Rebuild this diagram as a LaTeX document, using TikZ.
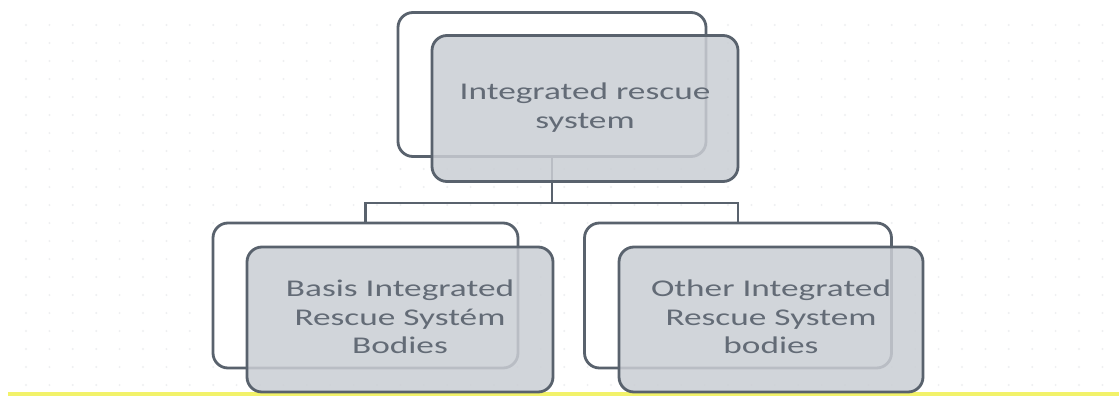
\documentclass[tikz,border=0pt]{standalone}
\usepackage{fontspec}
\setmainfont{Carlito}
\usepackage{graphicx}
\definecolor{edgec}{HTML}{59626D}
\definecolor{frontc}{HTML}{CACED4}
\definecolor{textc}{HTML}{636B76}
\definecolor{dotc}{HTML}{EEEFF1}
\definecolor{bandc}{HTML}{F2F26A}
\newcommand{\stretchtxt}[1]{\scalebox{1.47}[1]{\begin{tabular}{@{}c@{}}#1\end{tabular}}}
\tikzset{
  backbox/.style={draw=edgec, line width=2.8pt, fill=white, rounded corners=15pt, inner sep=0pt},
  frontbox/.style={draw=edgec, line width=2.8pt, fill=frontc, fill opacity=0.85, text opacity=1,
    rounded corners=15pt, inner sep=0pt, text=textc, font=\fontsize{24}{28.5}\selectfont},
  link/.style={draw=edgec, line width=2.8pt}
}
\begin{document}
\begin{tikzpicture}[x=1pt,y=-1pt]
\useasboundingbox (0,0) rectangle (1119,396);
\fill[white] (0,0) rectangle (1119,396);
% faint dotted background
\foreach \r in {0,...,20}{
  \foreach \c in {0,...,47}{
    \fill[dotc] ({26+23.4*\c},{25+18*\r}) circle (1.1);
  }
}
% yellow band at bottom
\fill[bandc] (8,392) rectangle (1119,396);
% back boxes
\node[backbox, minimum width=308, minimum height=144] (tb) at (552,84.5) {};
\node[backbox, minimum width=305, minimum height=145] (lb) at (365.5,295.5) {};
\node[backbox, minimum width=307, minimum height=145] (rb) at (738,295.5) {};
% connectors
\coordinate (bus) at (552,203);
\draw[link] (tb.south) -- (bus);
\draw[link] (lb.north) |- (bus) -| (rb.north);
% front boxes
\node[frontbox, minimum width=306, minimum height=146] (tf) at (585,108.5)
  {\stretchtxt{Integrated rescue\\system}};
\node[frontbox, minimum width=306, minimum height=145] (lf) at (400,319.5)
  {\stretchtxt{Basis Integrated\\Rescue Systém\\Bodies}};
\node[frontbox, minimum width=304, minimum height=145] (rf) at (771,319.5)
  {\stretchtxt{Other Integrated\\Rescue System\\bodies}};
\end{tikzpicture}
\end{document}
